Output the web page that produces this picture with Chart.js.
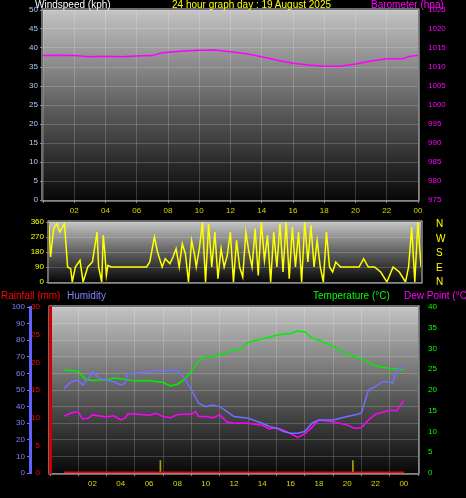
<!DOCTYPE html>
<html lang="en">
<head>
<meta charset="UTF-8">
<title>24 hour graph</title>
<script src="https://cdn.jsdelivr.net/npm/chart.js"></script>
<style>
  body { margin: 0; background: #000; width: 466px; height: 498px; position: relative; overflow: hidden; font-family: "Liberation Sans", sans-serif; }
  .pane { position: absolute; left: 0; }
  .lbl { position: absolute; font-size: 10px; white-space: nowrap; line-height: 10px; }
</style>
</head>
<body>
<div class="pane" style="top:0"><canvas id="topChart" width="466" height="225"></canvas></div>
<div class="pane" style="top:215px"><canvas id="dirChart" width="466" height="80"></canvas></div>
<div class="pane" style="top:295px"><canvas id="bottomChart" width="466" height="203"></canvas></div>
<div class="lbl" style="left:35px;top:0;color:#fff">Windspeed (kph)</div>
<div class="lbl" style="left:172px;top:0;color:#ffff00">24 hour graph day : 19 August 2025</div>
<div class="lbl" style="left:371px;top:0;color:#ff00ff">Barometer (hpa)</div>
<div class="lbl" style="left:436px;top:217px;color:#ffff00;font-size:10px;line-height:14.5px">N<br>W<br>S<br>E<br>N</div>
<div class="lbl" style="left:1px;top:291px;color:#ff0000">Rainfall (mm)</div>
<div class="lbl" style="left:67px;top:291px;color:#8080ff">Humidity</div>
<div class="lbl" style="left:313px;top:291px;color:#00ff00">Temperature (°C)</div>
<div class="lbl" style="left:404px;top:291px;color:#ff00ff">Dew Point (°C)</div>
<script type="text/javascript">
    // data, hours since midnight
    var baroHours = [0,1,2,3,4,5,6,7,7.5,8,9,10,11,12,13,14,15,16,17,18,19,20,21,22,23,23.5,24];
    var baroValues = [1013,1013.1,1013,1012.7,1012.8,1012.7,1012.9,1013,1013.6,1013.9,1014.2,1014.4,1014.5,1014,1013.5,1012.7,1011.8,1011,1010.5,1010.2,1010.2,1010.8,1011.6,1012.2,1012.2,1012.8,1013];

    var dirHours = [0,0.1,0.3,0.5,0.7,1,1.2,1.4,1.5,1.7,2,2.2,2.5,2.8,3.1,3.2,3.4,3.5,3.6,3.7,3.8,4,4.5,5,5.5,6,6.3,6.5,6.8,7,7.3,7.5,7.8,8,8.2,8.4,8.6,8.8,9,9.2,9.4,9.5,9.7,9.9,10.1,10.3,10.5,10.7,10.9,11.1,11.3,11.5,11.7,11.9,12.1,12.3,12.5,12.7,12.9,13.1,13.3,13.5,13.7,13.9,14.1,14.3,14.5,14.7,14.9,15.1,15.3,15.5,15.7,15.9,16.1,16.3,16.5,16.7,16.9,17.1,17.3,17.5,17.7,17.9,18.1,18.3,18.5,18.8,19.1,19.4,19.7,20,20.3,20.6,21,21.4,21.8,22.2,22.6,23,23.2,23.4,23.6,23.8,24];
    var dirValues = [340,150,320,350,300,350,90,80,0,90,130,0,90,120,300,90,0,280,180,40,100,90,90,90,90,90,90,120,270,180,90,140,110,150,200,90,230,170,0,250,160,90,200,360,0,350,90,300,20,200,90,160,300,0,250,90,30,300,180,90,320,40,360,130,280,0,300,90,350,60,360,20,330,90,300,0,360,120,340,90,250,90,0,300,90,60,120,90,90,90,90,90,140,90,90,60,0,90,60,0,90,330,0,360,90];

    var tempHours = [0,1,1.5,2,3,3.5,4,5,6,7,7.5,8,8.5,9,9.5,10,10.5,11,12,12.5,13,14,15,15.5,16,16.5,17,17.5,18,19,20,21,22,23,24];
    var tempValues = [24.8,24.5,22.6,22.3,22.5,22.9,22.7,22.2,22.3,21.8,21,21.4,22.5,24.5,27,28.2,28,28.5,29.6,30,31.5,32.3,33.2,33.5,33.6,34.2,34,32.5,32,30.5,28.6,27.5,25.8,25.2,24.9];
    var humHours = [0,0.5,1,1.3,1.7,2,2.5,3,3.5,4,4.3,4.5,5,6,6.5,7,7.5,8,8.5,9,9.5,10,10.5,11,11.5,12,13,14,14.5,15,15.5,16,16.5,17,17.5,18,19,20,20.5,21,21.5,22,22.5,23,23.2,23.5,24];
    var humValues = [51,55,56,53,57,61,57,56,55,53,54,60,60,61,62,61,62,62,57,50,42,40,41,40,37,34,33,30,28,27,25,24,24,25,30,32,32,34,35,36,50,52,55,55,54,62,64];
    var dewHours = [0,0.5,1,1.3,1.7,2,3,3.5,4,4.3,4.5,5,6,6.5,7,7.5,8,9,9.3,9.5,10,10.5,11,11.5,12,13,14,14.5,15,15.5,16,16.5,17,17.5,18,19,20,20.5,21,21.5,22,23,23.5,24];
    var dewValues = [13.7,14.5,14.7,13,13.2,14,13.5,13.8,12.8,13.2,14.2,14.2,13.9,14.4,13.6,13.3,14.1,14.2,14.8,13.6,13.6,13.3,14,12.3,12,12,11.5,10.6,10.9,10.3,9.5,8.6,9.4,11,12.8,12.3,11.6,10.8,10.9,12.8,14.2,15.1,15,17.5];
    var rainHours = [0,24];
    var rainValues = [0,0];
    var rateHours = [6.8,20.4];
    var rateValues = [3,3];

    function pts(xs, ys) { return xs.map(function (x, i) { return {x: x, y: ys[i]}; }); }

    // gray gradient behind plot area
    var shade = {
        id: 'shade',
        beforeDraw: function (chart) {
            var a = chart.chartArea, ctx = chart.ctx;
            var g = ctx.createLinearGradient(0, a.top, 0, a.bottom);
            g.addColorStop(0, '#c4c4c4');
            g.addColorStop(0.5, '#606060');
            g.addColorStop(1, '#080808');
            ctx.save();
            ctx.fillStyle = g;
            ctx.fillRect(a.left, a.top, a.right - a.left, a.bottom - a.top);
            ctx.strokeStyle = '#d8d8d8';
            ctx.strokeRect(a.left - 1, a.top - 1, a.right - a.left + 2, a.bottom - a.top + 2);
            ctx.restore();
        }
    };

    var font = {family: 'Liberation Sans', size: 8};
    var grid = {color: 'rgba(255,255,255,0.18)', borderDash: [1, 2], drawTicks: true, tickLength: 3, tickColor: '#888'};
    function xAxis(show) {
        return {
            type: 'linear', min: 0, max: 24, display: show,
            afterFit: function (s) { s.height = show ? 25 : 0; },
            ticks: {stepSize: 2, color: '#d8d800', font: font, callback: function (v) { return v == 0 ? '' : String(v % 24).padStart(2, '0'); }},
            grid: grid, border: {display: false}
        };
    }
    function yAxis(pos, min, max, step, color, width, lineColor) {
        return {
            position: pos, min: min, max: max,
            afterFit: function (s) { s.width = width; },
            ticks: {stepSize: step, color: color, font: font, padding: 2, callback: function (v) { return String(v); }},
            grid: pos == 'left' ? grid : {display: false},
            border: {display: !!lineColor, color: lineColor || '#000', width: 3}
        };
    }
    var base = {
        responsive: false, animation: false,
        plugins: {legend: {display: false}, tooltip: {enabled: false}},
        elements: {point: {radius: 0}, line: {borderWidth: 1.5, tension: 0}}
    };
    function opts(scales, padTop, padRight, padBottom) {
        return Object.assign({}, base, {scales: scales, layout: {padding: {top: padTop, right: padRight || 0, bottom: padBottom || 0}}});
    }

    new Chart(document.getElementById('topChart'), {
        type: 'line',
        data: {datasets: [
            {data: pts(baroHours, baroValues), borderColor: '#ff00ff', yAxisID: 'baro'}
        ]},
        options: opts({
            x: xAxis(true),
            y: yAxis('left', 0, 50, 5, '#a8d0ff', 43),
            baro: yAxis('right', 975, 1025, 5, '#ff00ff', 48)
        }, 10),
        plugins: [shade]
    });

    new Chart(document.getElementById('dirChart'), {
        type: 'line',
        data: {datasets: [
            {data: pts(dirHours, dirValues), borderColor: '#ffff00', borderWidth: 1.5}
        ]},
        options: opts({
            x: xAxis(false),
            y: yAxis('left', 0, 360, 90, '#ffff00', 49)
        }, 7, 45, 13),
        plugins: [shade]
    });

    new Chart(document.getElementById('bottomChart'), {
        data: {datasets: [
            {type: 'line', data: pts(humHours, humValues), borderColor: '#7070ff', yAxisID: 'hum'},
            {type: 'line', data: pts(tempHours, tempValues), borderColor: '#00ee00', yAxisID: 'temp'},
            {type: 'line', data: pts(dewHours, dewValues), borderColor: '#ff00ff', yAxisID: 'temp'},
            {type: 'line', data: pts(rainHours, rainValues), borderColor: '#ff0000', borderWidth: 3, yAxisID: 'rain'},
            {type: 'bar', data: pts(rateHours, rateValues), backgroundColor: '#b0a000', barThickness: 1, yAxisID: 'temp'}
        ]},
        options: opts({
            x: xAxis(true),
            rain: Object.assign(yAxis('left', 0, 30, 5, '#ff0000', 20, '#cc0000'), {grid: {display: false}}),
            hum: Object.assign(yAxis('left', 0, 100, 10, '#8080ff', 30, '#6060ff'), {grid: grid}),
            temp: yAxis('right', 0, 40, 5, '#00ff00', 48)
        }, 12),
        plugins: [shade]
    });
</script>
</body>
</html>
